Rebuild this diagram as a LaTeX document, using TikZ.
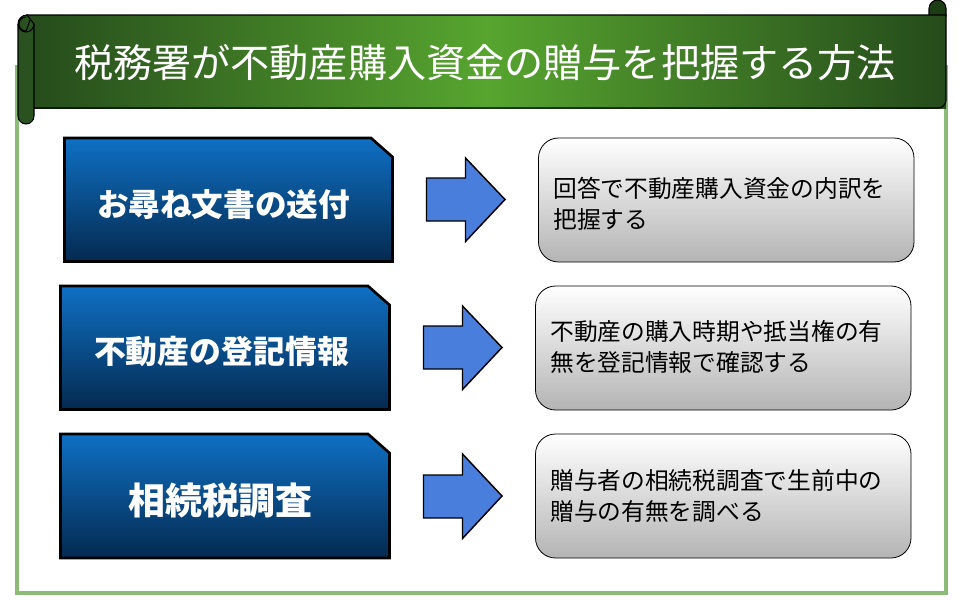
\documentclass[tikz,border=0pt]{standalone}
\usepackage{fontspec}
\setmainfont{Noto Sans CJK JP}
\definecolor{frameg}{HTML}{8CBB78}
\definecolor{bandL}{HTML}{254B1B}
\definecolor{bandM}{HTML}{57A52F}
\definecolor{rollg}{HTML}{2A5220}
\definecolor{rolld}{HTML}{1D3D16}
\definecolor{boxT}{HTML}{0F70C4}
\definecolor{boxB}{HTML}{042A50}
\definecolor{arrowb}{HTML}{4A7EDD}
\definecolor{noteB}{HTML}{B4B4B4}
\tikzset{
  snipbox/.style={draw=black,line width=2pt,top color=boxT,bottom color=boxB,line join=miter},
  notebox/.style={draw=black,line width=0.6pt,rounded corners=15pt,top color=white,bottom color=noteB},
  blockarrow/.style={draw=black,line width=1.1pt,fill=arrowb,line join=miter},
  lefttext/.style={white,anchor=center},
  notetext/.style={black,font=\fontsize{17.8pt}{23pt}\selectfont,anchor=west,align=left,inner sep=0pt},
  rollline/.style={draw=black,line width=0.8pt},
}
\begin{document}
\begin{tikzpicture}[x=0.75pt,y=-0.75pt]
\useasboundingbox (0,0) rectangle (960,600);
\fill[white] (0,0) rectangle (960,600);
% frame
\draw[frameg,line width=3pt] (17,65) -- (17,592.5) -- (945.5,592.5) -- (945.5,65);
% right roll behind
\filldraw[fill=rolld,rollline] (929,16) -- (929,8.5) arc[start angle=180,end angle=360,radius=8.5] -- (946,16) -- cycle;
% band
\path[left color=bandL,right color=bandL,middle color=bandM] (26,15) rectangle (946,108);
\draw[rollline,line width=0.9pt] (26,15) -- (946,15) -- (946,100) arc[start angle=0,end angle=90,radius=8] -- (34,108);
% left roll
\filldraw[fill=rollg,rollline] (18,24) arc[start angle=180,end angle=270,radius=9] -- (34,24) -- (34,116) arc[start angle=0,end angle=180,radius=8] -- cycle;
\draw[rollline] (26,31) arc[start angle=90,end angle=270,radius=7] ;
\draw[rollline] (18,24) arc[start angle=180,end angle=0,radius=8];
\draw[rollline] (26,31.5) -- (30,20);
\node[white,font=\fontsize{29.35pt}{34pt}\selectfont,inner sep=0pt] (title) at (485,63) {税務署が不動産購入資金の贈与を把握する方法};
% row 1
\path[snipbox] (64.5,138) -- (371,138) -- (392.5,157) -- (392.5,261.5) -- (64.5,261.5) -- cycle;
\node[lefttext,font=\fontsize{23.7pt}{28pt}\selectfont\bfseries] (a1) at (223.5,204) {お尋ね文書の送付};
\path[blockarrow] (426.5,178) -- (465.5,178) -- (465.5,158) -- (505,199.5) -- (465.5,241.5) -- (465.5,221) -- (426.5,221) -- cycle;
\path[notebox] (538.5,138) rectangle (914,262);
\node[notetext] (n1) at (553,203.5) {回答で不動産購入資金の内訳を\\把握する};
% row 2
\path[snipbox] (60.5,286) -- (368,286) -- (389.5,305) -- (389.5,409.5) -- (60.5,409.5) -- cycle;
\node[lefttext,font=\fontsize{23.9pt}{28pt}\selectfont\bfseries] (a2) at (221.5,352) {不動産の登記情報};
\path[blockarrow] (423.5,326) -- (462.5,326) -- (462.5,306) -- (502,347.5) -- (462.5,389.5) -- (462.5,369) -- (423.5,369) -- cycle;
\path[notebox] (535.5,286) rectangle (911,410);
\node[notetext] (n2) at (550,347) {不動産の購入時期や抵当権の有\\無を登記情報で確認する};
% row 3
\path[snipbox] (60.5,434) -- (368,434) -- (389.5,453) -- (389.5,558) -- (60.5,558) -- cycle;
\node[lefttext,font=\fontsize{27.7pt}{32pt}\selectfont\bfseries] (a3) at (220.5,501) {相続税調査};
\path[blockarrow] (423.5,475) -- (462.5,475) -- (462.5,454) -- (502,496) -- (462.5,538.5) -- (462.5,518) -- (423.5,518) -- cycle;
\path[notebox] (535.5,434) rectangle (911,558);
\node[notetext] (n3) at (550,496) {贈与者の相続税調査で生前中の\\贈与の有無を調べる};
\end{tikzpicture}
\end{document}
